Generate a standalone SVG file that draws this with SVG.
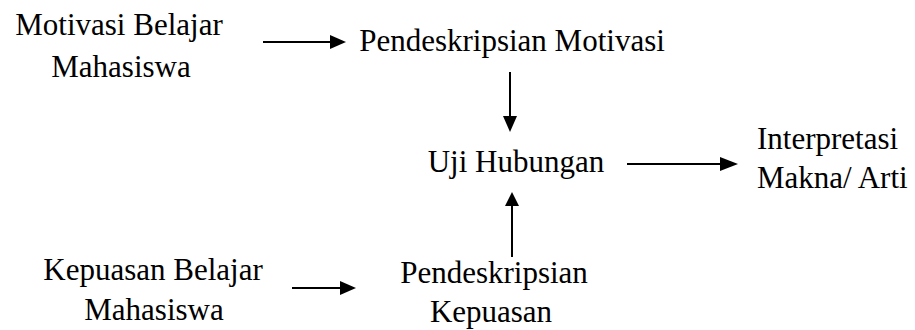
<svg xmlns="http://www.w3.org/2000/svg" width="915" height="330" viewBox="0 0 915 330">
<defs>
<style>
text{font-family:"Liberation Serif","Times New Roman",serif;font-size:31px;fill:#000}
.c{text-anchor:middle}
.ln{stroke:#000;stroke-width:2;fill:none}
.ah{fill:#000}
</style>
</defs>
<rect width="915" height="330" fill="#fff"/>
<g id="motivasi-belajar"><text class="c" x="119" y="35">Motivasi Belajar</text><text class="c" x="121" y="77">Mahasiswa</text></g>
<g id="pendeskripsian-motivasi"><text class="c" x="512" y="51">Pendeskripsian Motivasi</text></g>
<g id="uji-hubungan"><text class="c" x="516" y="172">Uji Hubungan</text></g>
<g id="interpretasi"><text x="757" y="149">Interpretasi</text><text x="757" y="188">Makna/ Arti</text></g>
<g id="kepuasan-belajar"><text class="c" x="153" y="280">Kepuasan Belajar</text><text class="c" x="154" y="320">Mahasiswa</text></g>
<g id="pendeskripsian-kepuasan"><text class="c" x="494" y="283">Pendeskripsian</text><text class="c" x="491" y="322">Kepuasan</text></g>
<g id="connectors">
<line class="ln" x1="263" y1="42" x2="332" y2="42"/><polygon class="ah" points="330,35 346,42 330,49"/>
<line class="ln" x1="510" y1="72" x2="510" y2="118"/><polygon class="ah" points="503,116 510,132 517,116"/>
<line class="ln" x1="627" y1="164" x2="722" y2="164"/><polygon class="ah" points="720,157 738,164 720,171"/>
<line class="ln" x1="512" y1="257" x2="512" y2="203"/><polygon class="ah" points="505,206 512,192 519,206"/>
<line class="ln" x1="292" y1="288" x2="342" y2="288"/><polygon class="ah" points="340,281 356,288 340,295"/>
</g>
</svg>
